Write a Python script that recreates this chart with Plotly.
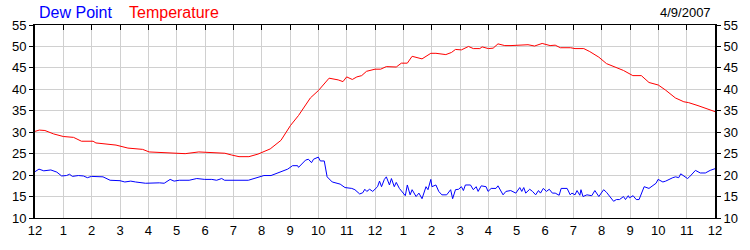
import plotly.graph_objects as go

# ---- data (hours since midnight, degrees F) ----
temp_hours = [0, 0.15, 0.35, 0.66, 1.0, 1.36, 1.64, 2.05, 2.15, 2.86, 3.28, 3.8, 4.03, 4.84, 5.3, 5.78,
              6.7, 6.93, 7.2, 7.55, 7.87, 8.3, 8.68, 9.02, 9.3, 9.72, 10.0, 10.38, 10.7, 10.87, 11.0,
              11.2, 11.36, 11.53, 11.7, 12.0, 12.2, 12.4, 12.75, 12.93, 13.14, 13.31, 13.45, 13.66,
              13.97, 14.15, 14.5, 14.7, 14.84, 15.05, 15.3, 15.47, 15.7, 15.78, 16.0, 16.17, 16.34,
              16.58, 16.8, 16.98, 17.4, 17.63, 17.9, 18.18, 18.36, 18.54, 18.9, 19.06, 19.37, 19.58,
              19.9, 20.17, 20.45, 20.77, 21.1, 21.4, 21.67, 22.0, 22.26, 22.6, 22.9, 23.07, 23.4,
              23.76, 24.0]
temperature = [30.2, 30.5, 30.4, 29.6, 29.0, 28.8, 27.9, 27.9, 27.5, 27.0, 26.3, 26.0, 25.4, 25.2, 25.0,
               25.4, 25.1, 24.7, 24.3, 24.3, 24.9, 26.1, 28.1, 31.6, 33.9, 38.0, 39.7, 42.6, 42.2, 41.8,
               42.9, 42.3, 42.9, 43.2, 44.2, 44.7, 44.7, 45.3, 45.2, 46.1, 46.1, 47.7, 47.5, 47.1, 48.4,
               48.4, 48.1, 48.6, 49.3, 49.2, 50.0, 49.5, 49.5, 49.9, 49.5, 49.6, 50.6, 50.2, 50.2, 50.3,
               50.4, 50.1, 50.7, 50.2, 50.3, 49.7, 49.7, 49.5, 49.5, 48.8, 47.5, 46.0, 45.3, 44.4, 43.2,
               43.2, 41.6, 41.0, 39.8, 38.0, 37.1, 36.9, 36.2, 35.4, 34.8]

dew_hours = [0, 0.14, 0.31, 0.56, 0.77, 0.94, 1.11, 1.22, 1.32, 1.53, 1.71, 1.85, 1.99, 2.4, 2.65, 3.0,
             3.17, 3.38, 3.55, 3.9, 4.39, 4.56, 4.77, 4.91, 5.09, 5.44, 5.71, 5.99, 6.24, 6.41, 6.59,
             6.69, 7.53, 7.8, 8.08, 8.33, 8.5, 8.68, 8.92, 9.09, 9.27, 9.3, 9.55, 9.65, 9.76, 9.83,
             10.0, 10.07, 10.21, 10.31, 10.49, 10.66, 10.77, 10.94, 11.18, 11.29, 11.46, 11.57, 11.64,
             11.71, 11.81, 11.92, 12.09, 12.16, 12.23, 12.33, 12.4, 12.51, 12.58, 12.68, 12.75, 12.86,
             12.96, 13.07, 13.14, 13.24, 13.31, 13.45, 13.55, 13.66, 13.8, 13.87, 13.97, 14.01, 14.15,
             14.25, 14.36, 14.53, 14.67, 14.74, 14.84, 14.95, 15.05, 15.12, 15.19, 15.37, 15.47, 15.57,
             15.64, 15.75, 15.92, 15.99, 16.1, 16.27, 16.34, 16.52, 16.62, 16.79, 16.97, 17.11, 17.18,
             17.25, 17.32, 17.46, 17.56, 17.67, 17.77, 17.84, 17.94, 18.05, 18.15, 18.26, 18.36, 18.5,
             18.57, 18.78, 18.89, 18.95, 19.06, 19.13, 19.23, 19.27, 19.34, 19.48, 19.65, 19.76, 19.9,
             20.07, 20.17, 20.42, 20.52, 20.63, 20.77, 20.84, 20.94, 20.98, 21.11, 21.22, 21.32, 21.5,
             21.67, 21.81, 21.92, 21.99, 22.06, 22.16, 22.26, 22.37, 22.51, 22.61, 22.72, 22.79, 22.89,
             23.03, 23.1, 23.24, 23.31, 23.48, 23.66, 23.83, 24.0]
dew_point = [20.8, 21.4, 21.0, 21.2, 20.7, 19.8, 19.9, 20.2, 19.7, 19.9, 19.8, 19.4, 19.7, 19.6, 18.8, 18.7,
             18.4, 18.6, 18.4, 18.1, 18.2, 18.1, 19.0, 18.6, 18.8, 18.8, 19.2, 19.0, 19.0, 18.8, 19.2,
             18.8, 18.8, 19.4, 19.9, 19.9, 20.3, 20.8, 21.4, 22.2, 22.2, 21.8, 23.5, 23.7, 22.9, 23.7,
             24.2, 23.3, 23.3, 19.6, 18.4, 18.1, 17.9, 17.1, 16.9, 16.6, 15.6, 15.9, 16.7,
             16.2, 16.7, 16.2, 17.3, 18.6, 17.3, 19.0, 19.6, 17.7, 19.2, 17.3, 18.3, 16.9,
             16.2, 15.2, 17.7, 15.4, 16.6, 15.0, 15.8, 14.5, 17.3, 16.6, 19.0, 17.3, 17.7,
             16.2, 15.4, 15.4, 16.6, 14.5, 16.6, 16.7, 17.3, 16.4, 17.7, 17.7, 16.6, 17.3,
             16.2, 17.5, 17.3, 16.2, 16.9, 16.9, 17.5, 15.4, 16.2, 16.4, 15.8, 17.1, 16.2,
             17.1, 15.8, 16.7, 16.2, 15.4, 16.4, 15.8, 16.9, 16.2, 16.7, 15.8, 15.8, 15.3,
             16.9, 16.9, 15.4, 15.8, 15.4, 16.4, 15.3, 16.6, 15.0, 15.4, 15.2, 16.4, 15.0,
             16.6, 16.0, 13.9, 14.3, 14.3, 15.0, 14.3, 15.2, 14.7, 15.2, 14.3, 14.3, 17.3,
             16.9, 17.7, 18.1, 19.0, 18.8, 18.4, 18.6, 19.0, 19.4, 19.6, 19.4, 20.3, 19.9,
             19.2, 19.6, 20.7, 21.1, 20.5, 20.5, 21.1, 21.5]

tick_hours = list(range(25))
tick_labels = ["12", "1", "2", "3", "4", "5", "6", "7", "8", "9", "10", "11",
               "12", "1", "2", "3", "4", "5", "6", "7", "8", "9", "10", "11", "12"]
y_ticks = [10, 15, 20, 25, 30, 35, 40, 45, 50, 55]
series_names = ["Dew Point", "Temperature"]
date_label = "4/9/2007"

BLUE = "#0000ff"
RED = "#ff0000"
FONT = "Liberation Sans, Arial, sans-serif"

fig = go.Figure()
fig.add_trace(go.Scatter(x=temp_hours, y=temperature, mode="lines", name=series_names[1],
                         line=dict(color=RED, width=1), showlegend=False))
fig.add_trace(go.Scatter(x=dew_hours, y=dew_point, mode="lines", name=series_names[0],
                         line=dict(color=BLUE, width=1), showlegend=False))
# invisible trace to activate top / right axes
fig.add_trace(go.Scatter(x=[0, 24], y=[10, 55], xaxis="x2", yaxis="y2", mode="markers",
                         marker=dict(opacity=0), showlegend=False, hoverinfo="skip"))

grid = "#d0d0d0"
fig.update_layout(
    width=750, height=250,
    margin=dict(l=31, r=30, t=25, b=26),
    paper_bgcolor="white", plot_bgcolor="white",
    font=dict(family=FONT, size=13, color="black"),
    xaxis=dict(range=[0, 24], tickvals=tick_hours, ticktext=tick_labels,
               showgrid=True, gridcolor=grid, gridwidth=1, zeroline=False,
               showline=True, linecolor="black", linewidth=1, ticks="",
               tickfont=dict(size=13, color="black")),
    xaxis2=dict(range=[0, 24], tickvals=tick_hours, overlaying="x", side="top",
                showgrid=False, zeroline=False, showticklabels=False,
                showline=True, linecolor="black", linewidth=1,
                ticks="inside", ticklen=5, tickcolor="black"),
    yaxis=dict(range=[10, 55], tickvals=y_ticks, showgrid=True, gridcolor=grid,
               zeroline=False, showline=True, linecolor="black", linewidth=2,
               ticks="outside", ticklen=4, tickcolor="black",
               tickfont=dict(size=13, color="black")),
    yaxis2=dict(range=[10, 55], tickvals=y_ticks, overlaying="y", side="right",
                showgrid=False, zeroline=False, showline=True, linecolor="black", linewidth=2,
                ticks="outside", ticklen=4, tickcolor="black",
                tickfont=dict(size=13, color="black")),
    annotations=[
        dict(text=series_names[0], xref="paper", yref="paper", x=0.003, y=1.063,
             xanchor="left", yanchor="middle", showarrow=False,
             font=dict(family=FONT, size=16, color=BLUE)),
        dict(text=series_names[1], xref="paper", yref="paper", x=0.135, y=1.063,
             xanchor="left", yanchor="middle", showarrow=False,
             font=dict(family=FONT, size=16, color=RED)),
        dict(text=date_label, xref="paper", yref="paper", x=0.997, y=1.063,
             xanchor="right", yanchor="middle", showarrow=False,
             font=dict(family=FONT, size=13, color="black")),
    ],
)

fig.write_html("out.html")
